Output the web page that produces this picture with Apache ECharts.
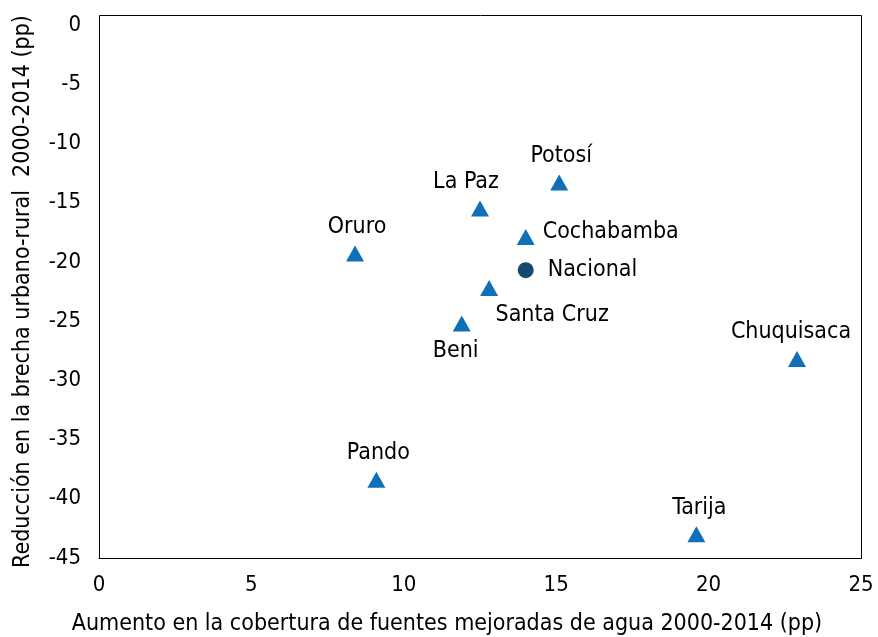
<!DOCTYPE html>
<html>
<head>
<meta charset="utf-8">
<script src="https://cdn.jsdelivr.net/npm/echarts@6/dist/echarts.min.js"></script>
<style>
  html, body { margin: 0; padding: 0; background: #fff; }
  #chart { width: 878px; height: 637px; }
</style>
</head>
<body>
<div id="chart"></div>
<script>
// departments (triangles)
const deptNames = ['Potosí', 'La Paz', 'Cochabamba', 'Oruro', 'Santa Cruz', 'Beni', 'Chuquisaca', 'Pando', 'Tarija'];
const coverageGain = [15.1, 12.5, 14.0, 8.4, 12.8, 11.9, 22.9, 9.1, 19.6];
const gapReduction = [-13.3, -15.5, -17.9, -19.3, -22.2, -25.2, -28.2, -38.4, -43.0];

// national point (circle)
const nationalName = 'Nacional';
const nationalX = 14.0;
const nationalY = -20.7;

const xTicks = [0, 5, 10, 15, 20, 25];
const yTicks = [0, -5, -10, -15, -20, -25, -30, -35, -40, -45];

// label placement per department (style only)
const labelStyle = {
  'Potosí': { position: 'top', offset: [2, -2] },
  'La Paz': { position: 'top', offset: [-14, -2] },
  'Cochabamba': { position: 'right', offset: [3, -5] },
  'Oruro': { position: 'top', offset: [2, -2] },
  'Santa Cruz': { position: 'bottom', offset: [63, 3] },
  'Beni': { position: 'bottom', offset: [-6, 3] },
  'Chuquisaca': { position: 'top', offset: [-6, -2] },
  'Pando': { position: 'top', offset: [2, -2] },
  'Tarija': { position: 'top', offset: [3, -2] }
};

const font = 'DejaVu Sans Condensed, DejaVu Sans';
const chart = echarts.init(document.getElementById('chart'));

const deptData = deptNames.map((n, i) => ({
  name: n,
  value: [coverageGain[i], gapReduction[i]],
  label: labelStyle[n]
}));

chart.setOption({
  animation: false,
  grid: { left: 99, right: 17, top: 25, bottom: 79, show: false },
  xAxis: {
    type: 'value',
    min: xTicks[0], max: xTicks[xTicks.length - 1], interval: 5,
    axisLine: { show: true, onZero: false, lineStyle: { color: '#000', width: 1 } },
    axisTick: { show: false },
    splitLine: { show: false },
    axisLabel: { color: '#000', fontFamily: font, fontSize: 22, margin: 16 }
  },
  yAxis: {
    type: 'value',
    min: yTicks[yTicks.length - 1], max: yTicks[0], interval: 5,
    axisLine: { show: true, onZero: false, lineStyle: { color: '#000', width: 1 } },
    axisTick: { show: false },
    splitLine: { show: false },
    axisLabel: { color: '#000', fontFamily: font, fontSize: 22, margin: 18 },
    name: 'Reducción en la brecha urbano-rural  2000-2014 (pp)',
    nameLocation: 'middle',
    nameGap: 64,
    nameTextStyle: { color: '#000', fontFamily: font, fontSize: 23 }
  },
  graphic: [
    {
      type: 'rect',
      shape: { x: 99.5, y: 15.5, width: 762, height: 543 },
      style: { fill: 'none', stroke: '#000', lineWidth: 1 },
      silent: true
    },
    {
      type: 'text',
      x: 447, y: 624,
      style: {
        text: 'Aumento en la cobertura de fuentes mejoradas de agua 2000-2014 (pp)',
        fill: '#000', font: '23px "DejaVu Sans Condensed", "DejaVu Sans"',
        textAlign: 'center', textVerticalAlign: 'middle'
      }
    }
  ],
  series: [
    {
      type: 'scatter',
      symbol: 'triangle',
      symbolSize: [18, 16],
      itemStyle: { color: '#0f6fb7', opacity: 1 },
      label: {
        show: true,
        formatter: '{b}',
        color: '#000',
        fontFamily: font,
        fontSize: 23
      },
      data: deptData
    },
    {
      type: 'scatter',
      symbol: 'circle',
      symbolSize: 16,
      itemStyle: { color: '#134a6e', opacity: 1 },
      label: {
        show: true,
        formatter: '{b}',
        position: 'right',
        offset: [9, 0],
        color: '#000',
        fontFamily: font,
        fontSize: 23
      },
      data: [{ name: nationalName, value: [nationalX, nationalY] }]
    }
  ]
});
</script>
</body>
</html>
